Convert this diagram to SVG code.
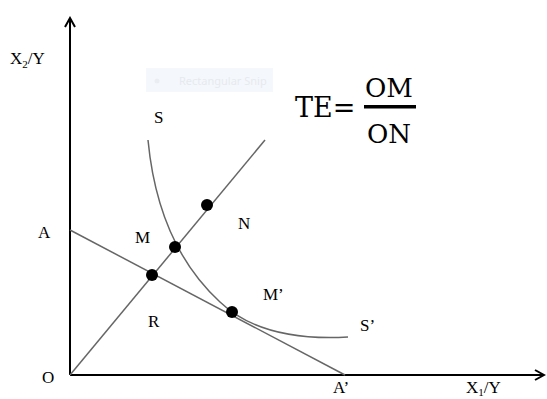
<svg xmlns="http://www.w3.org/2000/svg" width="547" height="399" viewBox="0 0 547 399">
<style>
.t{font-family:"Liberation Serif","Times New Roman",serif;font-size:17px;fill:#000}
.f{font-family:"DejaVu Serif","Liberation Serif",serif;fill:#000}
.ax{stroke:#000;stroke-width:2;fill:none}
.ln{stroke:#666;stroke-width:1.5;fill:none}
.dot{fill:#000}
</style>
<defs>
<marker id="ah" viewBox="0 0 12 12" refX="10" refY="6" markerWidth="12" markerHeight="12" markerUnits="userSpaceOnUse" orient="auto">
<path d="M1,1 L10,6 L1,11" fill="none" stroke="#000" stroke-width="2"/>
</marker>
</defs>
<rect width="547" height="399" fill="#fff"/>
<g id="snip" opacity="0.6">
<rect x="146" y="68" width="127" height="24" fill="#eef3fa"/>
<circle cx="157" cy="81" r="2.5" fill="#dde3ec"/>
<text x="179" y="85" font-family="'Segoe UI','Noto Sans',sans-serif" font-size="11" fill="#d6dbe4">Rectangular Snip</text>
</g>
<g id="connectors">
<line class="ax" x1="70" y1="375" x2="70" y2="18" marker-end="url(#ah)"/>
<line class="ax" x1="70" y1="375" x2="544" y2="375" marker-end="url(#ah)"/>
<line class="ln" x1="70" y1="375" x2="265" y2="140"/>
<line class="ln" x1="70" y1="230" x2="345" y2="375" stroke="#333"/>
<path class="ln" d="M148,140 Q158,245 220,302 Q262,342 348,337" stroke="#555"/>
</g>
<g id="dots">
<circle class="dot" cx="152" cy="275" r="6"/>
<circle class="dot" cx="175" cy="247" r="6"/>
<circle class="dot" cx="207" cy="205" r="6"/>
<circle class="dot" cx="232" cy="312" r="6"/>
</g>
<g id="labels">
<text class="t" x="10" y="64">X<tspan font-size="11" dy="4">2</tspan><tspan dy="-4">/Y</tspan></text>
<text class="t" x="154" y="123">S</text>
<text class="t" x="38" y="238">A</text>
<text class="t" x="135" y="243">M</text>
<text class="t" x="238" y="229">N</text>
<text class="t" x="263" y="300">M’</text>
<text class="t" x="148" y="327">R</text>
<text class="t" x="360" y="331">S’</text>
<text class="t" x="42" y="383">O</text>
<text class="t" x="333" y="393">A’</text>
<text class="t" x="466" y="393">X<tspan font-size="11" dy="3">1</tspan><tspan dy="-3">/Y</tspan></text>
</g>
<g id="formula">
<text class="f" x="295" y="117" font-size="27">TE=</text>
<text class="f" x="389" y="97" font-size="26" text-anchor="middle">OM</text>
<rect x="364" y="105" width="52" height="3.5" fill="#000"/>
<text class="f" x="389" y="143" font-size="26" text-anchor="middle">ON</text>
</g>
</svg>
